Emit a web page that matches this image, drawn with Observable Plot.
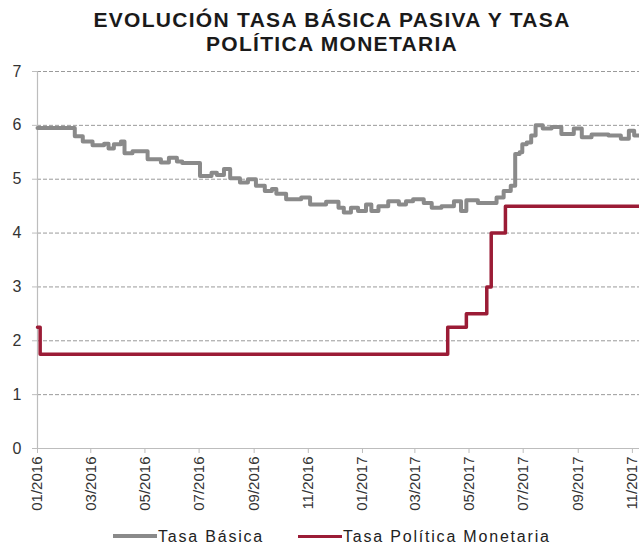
<!DOCTYPE html>
<html>
<head>
<meta charset="utf-8">
<script src="https://cdn.jsdelivr.net/npm/d3@7"></script>
<script src="https://cdn.jsdelivr.net/npm/@observablehq/plot@0.6"></script>
<style>
  body { margin: 0; background: #fff; font-family: "Liberation Sans", Arial, sans-serif; }
  #wrap { position: relative; width: 639px; height: 544px; overflow: hidden; background: #fff; }
  #title { position: absolute; left: 25px; width: 614px; top: 8px; text-align: center;
           font-weight: bold; font-size: 21px; line-height: 23.5px; letter-spacing: 1.3px; color: #1a1a1a; }
  #chart { position: absolute; left: 0; top: 58px; }
  .lg-line { position: absolute; }
  .lg-text { position: absolute; top: 527px; font-size: 16px; line-height: 20px; letter-spacing: 1.8px; color: #222; white-space: nowrap; }
</style>
</head>
<body>
<div id="wrap">
  <div id="title">EVOLUCIÓN TASA BÁSICA PASIVA Y TASA<br>POLÍTICA MONETARIA</div>
  <div id="chart"></div>
  <div class="lg-line" style="left:113px;top:534px;width:44px;height:4px;background:#8a8a8a"></div>
  <div class="lg-text" style="left:158px">Tasa Básica</div>
  <div class="lg-line" style="left:298px;top:534.5px;width:44px;height:3.5px;background:#9b1c36"></div>
  <div class="lg-text" style="left:343px">Tasa Política Monetaria</div>
</div>
<script>
// ---- Data ----
const basicaDates = [
  "2016-01-01","2016-02-12","2016-02-21","2016-03-03","2016-03-16","2016-03-21","2016-03-27","2016-04-04",
  "2016-04-08","2016-04-17","2016-05-04","2016-05-19","2016-05-28","2016-06-06","2016-06-12","2016-07-02",
  "2016-07-15","2016-07-21","2016-07-29","2016-08-05","2016-08-16","2016-08-25","2016-09-03","2016-09-13",
  "2016-09-21","2016-09-26","2016-10-07","2016-10-24","2016-11-03","2016-11-21","2016-12-05","2016-12-11",
  "2016-12-19","2016-12-27","2017-01-05","2017-01-11","2017-01-19","2017-01-30","2017-02-11","2017-02-19",
  "2017-02-27","2017-03-11","2017-03-20","2017-03-31","2017-04-14","2017-04-22","2017-04-28","2017-05-11",
  "2017-06-01","2017-06-09","2017-06-17","2017-06-22","2017-06-27","2017-06-30","2017-07-05","2017-07-10",
  "2017-07-15","2017-07-23","2017-08-02","2017-08-13","2017-08-27","2017-09-05","2017-09-16","2017-10-05",
  "2017-10-19","2017-10-28","2017-11-03","2017-11-09"
];
const basicaValues = [
  5.95,5.80,5.70,5.63,5.66,5.57,5.65,5.70,
  5.48,5.52,5.37,5.31,5.40,5.33,5.30,5.06,
  5.12,5.08,5.19,5.02,4.94,5.00,4.88,4.78,
  4.82,4.73,4.63,4.66,4.53,4.58,4.47,4.38,
  4.47,4.41,4.53,4.41,4.50,4.59,4.53,4.59,
  4.63,4.56,4.47,4.50,4.59,4.41,4.61,4.56,
  4.66,4.78,4.88,5.47,5.50,5.65,5.68,5.81,
  6.00,5.94,5.97,5.84,5.94,5.78,5.83,5.81,
  5.75,5.90,5.81,5.81
];
const tpmDates = ["2016-01-01","2016-01-04","2017-04-07","2017-04-28","2017-05-21","2017-05-26","2017-06-11","2017-11-09"];
const tpmValues = [2.25,1.75,2.25,2.50,3.00,4.00,4.50,4.50];

const xTickDates = ["2016-01-01","2016-03-01","2016-05-01","2016-07-01","2016-09-01","2016-11-01",
                    "2017-01-01","2017-03-01","2017-05-01","2017-07-01","2017-09-01","2017-11-01"];
const yTicks = [0,1,2,3,4,5,6,7];
const xDomain = ["2016-01-01","2017-11-09"];

// ---- Build tables ----
const parse = d3.utcParse("%Y-%m-%d");
const basica = basicaDates.map((d, i) => ({date: parse(d), value: basicaValues[i]}));
const tpm = tpmDates.map((d, i) => ({date: parse(d), value: tpmValues[i]}));

const chart = Plot.plot({
  width: 639,
  height: 464,
  marginLeft: 37,
  marginRight: 0,
  marginTop: 13,
  marginBottom: 74,
  style: {fontFamily: "'Liberation Sans', Arial, sans-serif", background: "transparent", overflow: "visible"},
  x: {type: "utc", domain: xDomain.map(parse), label: null},
  y: {domain: [0, 7], label: null},
  marks: [
    Plot.ruleY(yTicks.filter(d => d > 0), {stroke: "#9a9a9a", strokeWidth: 1, strokeDasharray: "4,2"}),
    Plot.ruleY([0], {stroke: "#bdbdbd", strokeWidth: 1.2}),
    Plot.ruleX([parse(xDomain[0])], {y1: 0, y2: 7, stroke: "#bdbdbd", strokeWidth: 1.2}),
    Plot.axisY({ticks: yTicks, tickSize: 5, tickPadding: 11, fontSize: 16, stroke: "#bdbdbd", fill: "#333", tickFormat: d => d}),
    Plot.axisX({ticks: xTickDates.map(parse), tickFormat: d3.utcFormat("%m/%Y"), tickRotate: -90,
                tickSize: 5, tickPadding: 3, fontSize: 15, stroke: "#bdbdbd", fill: "#333"}),
    Plot.line(basica, {x: "date", y: "value", curve: "step-after", stroke: "#8a8a8a", strokeWidth: 4}),
    Plot.line(tpm, {x: "date", y: "value", curve: "step-after", stroke: "#9b1c36", strokeWidth: 3.5})
  ]
});
document.getElementById("chart").appendChild(chart);
</script>
</body>
</html>
